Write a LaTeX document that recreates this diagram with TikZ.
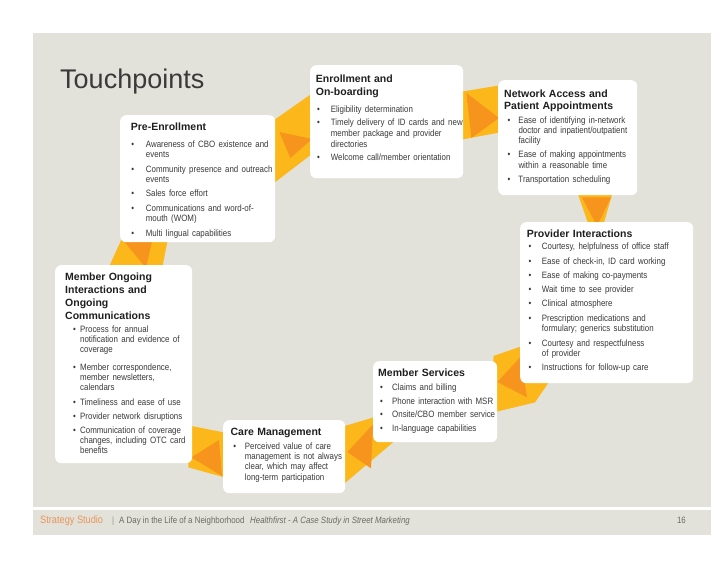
\documentclass[tikz,border=0pt]{standalone}
\usepackage{fontspec}
\setmainfont{Liberation Sans}
\newfontfamily\condfont[FakeStretch=0.86]{Liberation Sans}
\newfontfamily\headfont{Liberation Sans}
\usetikzlibrary{calc}

\definecolor{slidegray}{HTML}{E3E2DA}
\definecolor{ribbonyellow}{HTML}{FCB81A}
\definecolor{ribbonorange}{HTML}{F7941D}
\definecolor{footorange}{HTML}{E8955A}
\definecolor{footgray}{HTML}{6A6A66}
\definecolor{textgray}{HTML}{3A3A3A}
\definecolor{headblack}{HTML}{1F1F1F}

\pgfdeclarelayer{back}
\pgfdeclarelayer{ribbon}
\pgfsetlayers{back,ribbon,main}

% bullet list inside the cards
\newlength\bdot
\newlength\btxt
\newlength\bgap
\newcommand{\bitem}[1]{\par\vspace{\bgap}\hangindent=\btxt\hangafter=1\noindent\makebox[\btxt][l]{\hspace{\bdot}\textbullet}#1}
\newcommand{\cardhead}[2]{{\headfont\bfseries\color{headblack}\fontsize{10.5}{#1}\selectfont #2\par}}

\begin{document}
\begin{tikzpicture}[x=1pt,y=-1pt,
  card/.style={fill=white, rounded corners=6pt, anchor=north west, inner sep=0pt},
  cardtxt/.style={anchor=north west, inner sep=0pt, text width=250pt, align=left, text=textgray, font=\condfont},
  band/.style={fill=ribbonyellow},
  tip/.style={fill=ribbonorange},
  foot/.style={anchor=base west, inner sep=0pt, text=footgray, font=\condfont\fontsize{9.2}{10}\selectfont}]

\useasboundingbox (0,0) rectangle (728,563);

% Slide background
\begin{pgfonlayer}{back}
\fill[slidegray] (33,33) rectangle (711,507);
\fill[slidegray] (33,510) rectangle (711,535);
\end{pgfonlayer}

% Title
\node[anchor=base west, inner sep=0pt, text=textgray, font=\headfont\fontsize{27}{30}\selectfont] (title) at (60,88) {Touchpoints};

% Cards
\node[card, minimum width=155, minimum height=127] (pre) at (120,115) {};
\node[card, minimum width=153, minimum height=113] (enroll) at (310,65) {};
\node[card, minimum width=139, minimum height=115] (net) at (498,80) {};
\node[card, minimum width=173, minimum height=161] (prov) at (520,222) {};
\node[card, minimum width=124, minimum height=81] (memS) at (373,361) {};
\node[card, minimum width=122, minimum height=73] (care) at (223,420) {};
\node[card, minimum width=137, minimum height=198] (ongo) at (55,265) {};

% Card texts
\node[cardtxt] (preTxt) at ([shift={(10.7,7.8)}]pre.north west) {%
  \setlength\bdot{0.5pt}\setlength\btxt{15pt}\setlength\bgap{3.8pt}%
  \cardhead{13}{Pre-Enrollment}\vspace{2.4pt}%
  \fontsize{9.2}{10.5}\selectfont
  \bitem{Awareness of CBO existence and\newline events}
  \bitem{Community presence and outreach\newline events}
  \bitem{Sales force effort}
  \bitem{Communications and word-of-\newline mouth (WOM)}
  \bitem{Multi lingual capabilities}\par};

\node[cardtxt] (enrollTxt) at ([shift={(5.7,9.4)}]enroll.north west) {%
  \setlength\bdot{1.1pt}\setlength\btxt{15pt}\setlength\bgap{1.8pt}%
  \cardhead{13.4}{Enrollment and\newline On-boarding}\vspace{3.7pt}%
  \fontsize{9.2}{11.2}\selectfont
  \bitem{Eligibility determination}
  \bitem{Timely delivery of ID cards and new\newline member package and provider\newline directories}
  \bitem{Welcome call/member orientation}\par};

\node[cardtxt] (netTxt) at ([shift={(6,10)}]net.north west) {%
  \setlength\bdot{3.5pt}\setlength\btxt{14.3pt}\setlength\bgap{3.8pt}%
  \cardhead{12}{Network Access and\newline Patient Appointments}\vspace{-0.65pt}%
  \fontsize{9.2}{10.3}\selectfont
  \bitem{Ease of identifying in-network\newline doctor and inpatient/outpatient\newline facility}
  \bitem{Ease of making appointments\newline within a reasonable time}
  \bitem{Transportation scheduling}\par};

\node[cardtxt] (provTxt) at ([shift={(6.7,7.4)}]prov.north west) {%
  \setlength\bdot{1.8pt}\setlength\btxt{15pt}\setlength\bgap{3.8pt}%
  \cardhead{13}{Provider Interactions}\vspace{-1.8pt}%
  \fontsize{9.2}{10.5}\selectfont
  \bitem{Courtesy, helpfulness of office staff}
  \bitem{Ease of check-in, ID card working}
  \bitem{Ease of making co-payments}
  \bitem{Wait time to see provider}
  \bitem{Clinical atmosphere}
  \bitem{Prescription medications and\newline formulary; generics substitution}
  \bitem{Courtesy and respectfulness\newline of provider}
  \bitem{Instructions for follow-up care}\par};

\node[cardtxt] (memSTxt) at ([shift={(5,7.4)}]memS.north west) {%
  \setlength\bdot{1.9pt}\setlength\btxt{14pt}\setlength\bgap{3.3pt}%
  \cardhead{13}{Member Services}\vspace{0.85pt}%
  \fontsize{9.2}{10.3}\selectfont
  \bitem{Claims and billing}
  \bitem{Phone interaction with MSR}
  \bitem{Onsite/CBO member service}
  \bitem{In-language capabilities}\par};

\node[cardtxt] (careTxt) at ([shift={(7.4,7.8)}]care.north west) {%
  \setlength\bdot{2.8pt}\setlength\btxt{14.3pt}\setlength\bgap{3.5pt}%
  \cardhead{13}{Care Management}\vspace{0.25pt}%
  \fontsize{9.2}{10.3}\selectfont
  \bitem{Perceived value of care\newline management is not always\newline clear, which may affect\newline long-term participation}\par};

\node[cardtxt] (ongoTxt) at ([shift={(10,7.8)}]ongo.north west) {%
  \setlength\bdot{7.8pt}\setlength\btxt{15pt}\setlength\bgap{4pt}%
  \cardhead{12.8}{Member Ongoing\newline Interactions and\newline Ongoing\newline Communications}\vspace{-0.75pt}%
  \fontsize{9.2}{10.2}\selectfont
  \bitem{Process for annual\newline notification and evidence of\newline coverage}
  \par\vspace{3.5pt}%
  \bitem{Member correspondence,\newline member newsletters,\newline calendars}
  \bitem{Timeliness and ease of use}
  \bitem{Provider network disruptions}
  \bitem{Communication of coverage\newline changes, including OTC card\newline benefits}\par};

% Ribbon between the cards
\begin{pgfonlayer}{ribbon}
% Pre-Enrollment to Enrollment
\fill[band] ([shift={(-4,7)}]pre.north east) -- ([shift={(4,27)}]enroll.north west)
  -- ([shift={(4,-26)}]enroll.south west) -- ([shift={(-4,70)}]pre.north east) -- cycle;
\fill[tip] ([shift={(4,17)}]pre.north east) -- ([shift={(2,74)}]enroll.north west)
  -- ([shift={(15,43)}]pre.north east) -- cycle;
% Enrollment to Network Access
\fill[band] ([shift={(-4,27)}]enroll.north east) -- ([shift={(4,5)}]net.north west)
  -- ([shift={(4,52)}]net.north west) -- ([shift={(-4,75)}]enroll.north east) -- cycle;
\fill[tip] ([shift={(3,28)}]enroll.north east) -- ([shift={(1,38)}]net.north west)
  -- ([shift={(8,73)}]enroll.north east) -- cycle;
% Network Access to Provider Interactions
\fill[band] ([shift={(79,-4)}]net.south west) -- ([shift={(115,-4)}]net.south west)
  -- ([shift={(83,4)}]prov.north west) -- ([shift={(69,4)}]prov.north west) -- cycle;
\fill[tip] ([shift={(84,2)}]net.south west) -- ([shift={(113,2)}]net.south west)
  -- ([shift={(77,4)}]prov.north west) -- cycle;
% Provider Interactions to Member Services
\fill[band] ([shift={(4,-38)}]prov.south west) -- ([shift={(30,-3)}]prov.south west)
  -- ([shift={(15,19)}]prov.south west) -- ([shift={(-4,-30)}]memS.south east)
  -- ([shift={(-4,-5)}]memS.north east) -- cycle;
\fill[tip] ([shift={(1,-27)}]prov.south west) -- ([shift={(7,14)}]prov.south west)
  -- ([shift={(0,21)}]memS.north east) -- cycle;
% Member Services to Care Management
\fill[band] ([shift={(4,-26)}]memS.south west) -- ([shift={(20,0)}]memS.south west)
  -- ([shift={(-4,66)}]care.north east) -- ([shift={(-4,7)}]care.north east) -- cycle;
\fill[tip] ([shift={(0,-18)}]memS.south west) -- ([shift={(-2,26)}]memS.south west)
  -- ([shift={(2,32)}]care.north east) -- cycle;
% Care Management to Member Ongoing
\fill[band] ([shift={(4,13)}]care.north west) -- ([shift={(4,58)}]care.north west)
  -- ([shift={(-4,4)}]ongo.south east) -- ([shift={(-4,-38)}]ongo.south east) -- cycle;
\fill[tip] ([shift={(-4,20)}]care.north west) -- ([shift={(-1,56)}]care.north west)
  -- ([shift={(-1,-6)}]ongo.south east) -- cycle;
% Member Ongoing to Pre-Enrollment
\fill[band] ([shift={(53,4)}]ongo.north west) -- ([shift={(107,4)}]ongo.north west)
  -- ([shift={(48,-4)}]pre.south west) -- ([shift={(2,-4)}]pre.south west) -- cycle;
\fill[tip] ([shift={(4,-1)}]pre.south west) -- ([shift={(32,-1)}]pre.south west)
  -- ([shift={(91,3)}]ongo.north west) -- cycle;
\end{pgfonlayer}

% Footer
\node[foot, text=footorange, font=\condfont\fontsize{10.7}{12}\selectfont] (studio) at (40,523) {Strategy Studio};
\node[foot, text=footgray!70] (bar) at (112,523) {|};
\node[foot] (dayTxt) at (119,523) {A Day in the Life of a Neighborhood};
\node[foot] (caseTxt) at (250,523) {\itshape Healthfirst - A Case Study in Street Marketing};
\node[foot, anchor=base east] (pageNo) at (686,523) {16};
\end{tikzpicture}
\end{document}
